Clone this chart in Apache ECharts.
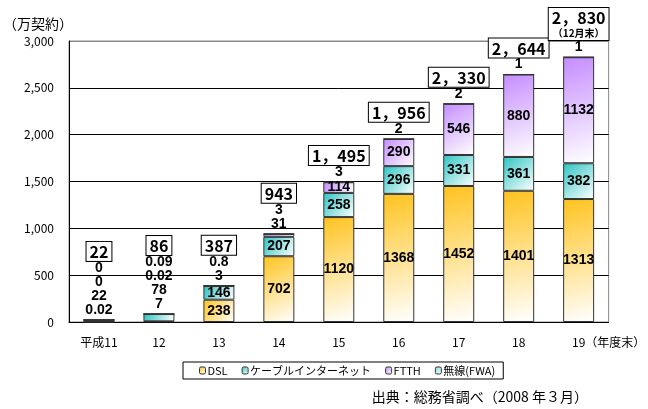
<!DOCTYPE html>
<html>
<head>
<meta charset="utf-8">
<script src="https://cdn.jsdelivr.net/npm/echarts@6/dist/echarts.min.js"></script>
<style>
  html, body { margin: 0; padding: 0; background: #fff; }
  #main { width: 648px; height: 409px; }
</style>
</head>
<body>
<div id="main"></div>
<script>
var years = ['平成11', '12', '13', '14', '15', '16', '17', '18', '19'];
var dsl = [0.02, 7, 238, 702, 1120, 1368, 1452, 1401, 1313];
var cable = [22, 78, 146, 207, 258, 296, 331, 361, 382];
var ftth = [0, 0.02, 3, 31, 114, 290, 546, 880, 1132];
var fwa = [0, 0.09, 0.8, 3, 3, 2, 2, 1, 1];
var totals = [22, 86, 387, 943, 1495, 1956, 2330, 2644, 2830];

var names = ['DSL', 'ケーブルインターネット', 'FTTH', '無線(FWA)'];
var values = [dsl, cable, ftth, fwa];
// from which year index the value is written inside the segment
var insideFrom = [2, 2, 4, 99];
var colors = ['#FFC31F', '#2EC4C4', '#C58CFF', '#7FDCDC'];

var labelFont = 'bold 14px "Liberation Sans", Arial, sans-serif';

function grad(c) {
  return new echarts.graphic.LinearGradient(0, 0, 1, 1, [
    { offset: 0, color: c },
    { offset: 1, color: '#ffffff' }
  ]);
}

// labels that sit above the bar, bottom to top
var outside = [];
var outCount = [];
years.forEach(function (y, i) {
  var top = 0, n = 0;
  values.forEach(function (v) { top += v[i]; });
  values.forEach(function (v, s) {
    if (i < insideFrom[s]) {
      outside.push({ value: [i, top], k: n, text: String(v[i]) });
      n++;
    }
  });
  outCount.push({ value: [i, top], n: n });
});

function totalText(t) {
  if (t < 1000) return String(t);
  var r = String(t % 1000);
  while (r.length < 3) r = '0' + r;
  return Math.floor(t / 1000) + '，' + r;
}

var series = values.map(function (v, s) {
  return {
    name: names[s],
    type: 'bar',
    stack: 'all',
    barWidth: 31,
    data: v,
    itemStyle: { color: grad(colors[s]), borderColor: '#333', borderWidth: 1 },
    label: {
      show: true,
      position: 'inside',
      color: '#000',
      fontFamily: '"Liberation Sans", Arial, sans-serif',
      fontWeight: 'bold',
      fontSize: 14,
      formatter: function (p) { return p.dataIndex >= insideFrom[s] ? String(p.value) : ''; }
    }
  };
});

series.push({
  type: 'custom',
  silent: true,
  z: 10,
  data: outside.map(function (o) { return o.value; }),
  renderItem: function (params, api) {
    var o = outside[params.dataIndex];
    var pt = api.coord([api.value(0), api.value(1)]);
    return {
      type: 'text',
      style: {
        text: o.text, x: pt[0], y: pt[1] - 10 - o.k * 14,
        align: 'center', verticalAlign: 'middle', font: labelFont, fill: '#000'
      }
    };
  }
});

series.push({
  type: 'custom',
  silent: true,
  z: 10,
  data: outCount.map(function (o) { return o.value; }),
  renderItem: function (params, api) {
    var i = params.dataIndex;
    var n = outCount[i].n;
    var pt = api.coord([api.value(0), api.value(1)]);
    var txt = '{b|' + totalText(totals[i]) + '}';
    if (i === years.length - 1) txt += '\n{s|（12月末）}';
    return {
      type: 'text',
      style: {
        text: txt, x: pt[0], y: pt[1] - 17 - (n - 1) * 14,
        align: 'center', verticalAlign: 'bottom',
        backgroundColor: '#fff', borderColor: '#000', borderWidth: 1,
        padding: [1, 3, 0, 3],
        rich: {
          b: { font: 'bold 16px "Noto Sans CJK JP", sans-serif', fill: '#000', align: 'center', lineHeight: 18 },
          s: { font: 'bold 10px "Noto Sans CJK JP", sans-serif', fill: '#000', align: 'center', lineHeight: 13 }
        }
      }
    };
  }
});

var chart = echarts.init(document.getElementById('main'));
chart.setOption({
  animation: false,
  textStyle: { fontFamily: '"Noto Sans CJK JP", sans-serif' },
  grid: { left: 67, right: 36, top: 41, bottom: 87, show: true, borderColor: '#888', borderWidth: 1 },
  legend: {
    data: names,
    left: 183,
    top: 362,
    padding: [3, 8, 3, 16],
    borderColor: '#000',
    borderWidth: 1,
    itemWidth: 6,
    itemHeight: 7,
    itemGap: 14,
    itemStyle: { borderColor: '#333', borderWidth: 1 },
    textStyle: { fontSize: 11, color: '#000', padding: [0, 0, 0, -3] }
  },
  xAxis: {
    type: 'category',
    data: years,
    axisLine: { lineStyle: { color: '#000' } },
    axisTick: { inside: true, length: 5, lineStyle: { color: '#000' } },
    axisLabel: {
      interval: 0,
      color: '#000', fontSize: 12, margin: 14,
      formatter: function (v, i) {
        return i === years.length - 1 ? '{p|}' + v + '{u|（年度末）}' : v;
      },
      rich: {
        p: { width: 60 },
        u: { fontSize: 12, color: '#000', width: 60 }
      }
    }
  },
  yAxis: {
    type: 'value',
    min: 0, max: 3000, interval: 500,
    name: '（万契約）',
    nameGap: 10,
    nameTextStyle: { color: '#000', fontSize: 14, align: 'right', padding: [0, -4, 0, 0] },
    axisLine: { show: true, lineStyle: { color: '#000' } },
    axisTick: { show: false },
    axisLabel: { color: '#000', fontSize: 12, margin: 15 },
    splitLine: { lineStyle: { color: ['#000', '#000', '#000', '#000', '#000', '#000', '#888'] } }
  },
  graphic: [{
    type: 'text',
    right: 60,
    top: 390,
    style: { text: '出典：総務省調べ（2008 年３月）', font: '14px "Noto Sans CJK JP", sans-serif', fill: '#000' }
  }],
  series: series
});
</script>
</body>
</html>
